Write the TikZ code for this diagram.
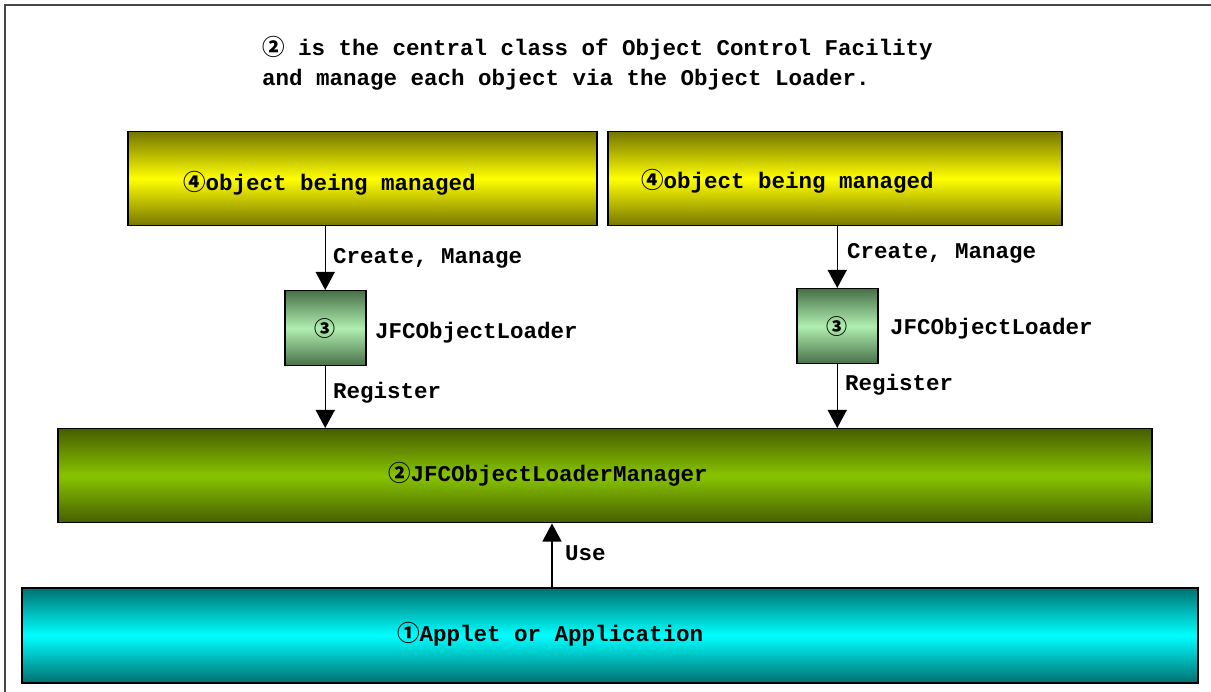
\documentclass[tikz,border=0pt]{standalone}
\usepackage{fontspec}
\setmainfont{Liberation Mono}
\newfontfamily\cjk{Noto Sans CJK JP}
\usetikzlibrary{arrows.meta}
\definecolor{olv}{RGB}{118,118,0}
\definecolor{yel}{RGB}{255,255,0}
\definecolor{dgr}{RGB}{70,94,0}
\definecolor{lgr}{RGB}{136,196,0}
\definecolor{dcy}{RGB}{0,112,112}
\definecolor{lcy}{RGB}{0,255,255}
\definecolor{dsg}{RGB}{72,112,72}
\definecolor{lsg}{RGB}{176,238,176}
\definecolor{frm}{RGB}{70,70,70}
\begin{document}
\begin{tikzpicture}[x=1pt,y=-1pt,
  lbl/.style={font=\fontsize{22.5}{24}\selectfont\bfseries, inner sep=0pt, anchor=west},
  box/.style={draw=black, line width=1.5pt, inner sep=0pt, anchor=north west,
              font=\fontsize{21}{22}\selectfont\bfseries},
  ybox/.style={top color=olv, bottom color=olv, middle color=yel},
  gbox/.style={top color=dgr, bottom color=dgr, middle color=lgr},
  cbox/.style={top color=dcy, bottom color=dcy, middle color=lcy},
  lbox/.style={top color=dsg, bottom color=dsg, middle color=lsg},
  arr/.style={line width=1.5pt, -{Triangle[width=19pt,length=18pt]}}]
\useasboundingbox (0,0) rectangle (1211,692);
\draw[line width=2pt, frm] (5,692) -- (5,5) -- (1211,5);

\node[box, ybox, minimum width=469pt, minimum height=94pt] (o1) at (127,131) {};
\node[box, ybox, minimum width=454pt, minimum height=94pt] (o2) at (607,131) {};
\node[box, lbox, minimum width=81pt, minimum height=75pt] (l1) at (284,290) {\cjk ③};
\node[box, lbox, minimum width=81pt, minimum height=75pt] (l2) at (796,288) {\cjk ③};
\node[box, gbox, minimum width=1094pt, minimum height=94pt] (m) at (57,428) {};
\node[box, cbox, minimum width=1176pt, minimum height=95pt] (a) at (21,587) {};

\node[lbl] (t1) at (262,48) {{\cjk ②} is the central class of Object Control Facility};
\node[lbl] (t2) at (262,80) {and manage each object via the Object Loader.};
\node[lbl] (o1t) at (183,183) {{\cjk ④}object being managed};
\node[lbl] (o2t) at (641,181) {{\cjk ④}object being managed};
\node[lbl] (c1) at (333,258) {Create, Manage};
\node[lbl] (c2) at (847,253) {Create, Manage};
\node[lbl] (j1) at (375,333) {JFCObjectLoader};
\node[lbl] (j2) at (890,329) {JFCObjectLoader};
\node[lbl] (r1) at (333,393) {Register};
\node[lbl] (r2) at (845,385) {Register};
\node[lbl] (mt) at (388,474) {{\cjk ②}JFCObjectLoaderManager};
\node[lbl] (ut) at (565,553) {Use};
\node[lbl] (at) at (397,634) {{\cjk ①}Applet or Application};

\coordinate (u) at (552,550);
\draw[arr] (l1.north |- o1.south) -- (l1.north);
\draw[arr] (l2.north |- o2.south) -- (l2.north);
\draw[arr] (l1.south) -- (l1.south |- m.north);
\draw[arr] (l2.south) -- (l2.south |- m.north);
\draw[arr] (u |- a.north) -- (u |- m.south);
\end{tikzpicture}
\end{document}
